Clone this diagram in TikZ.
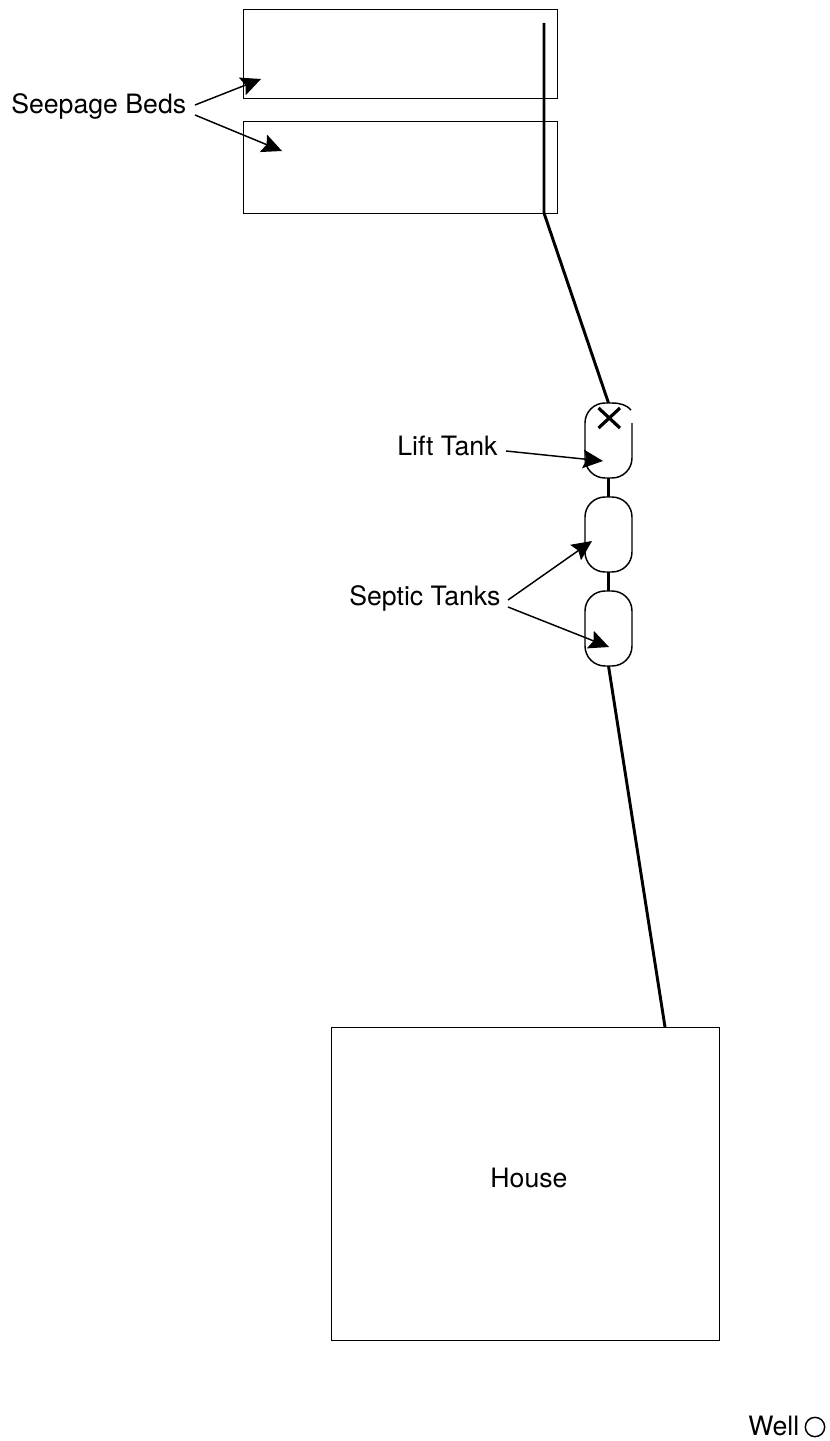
\documentclass[tikz,border=0pt]{standalone}
\usepackage{fontspec}
\setmainfont{TeX Gyre Heros}
\usetikzlibrary{arrows.meta}
\tikzset{
  every picture/.style={x=0.75pt,y=-0.75pt},
  bedbox/.style={draw,line width=0.7pt,minimum width=235.5pt,inner sep=0pt,outer sep=0pt,anchor=north west},
  tankbox/.style={draw,line width=1.1pt,rounded corners=15pt,minimum width=35.25pt,minimum height=56.25pt,inner sep=0pt,outer sep=0pt,anchor=north west},
  pipe/.style={line width=2.2pt},
  pointer/.style={line width=1.1pt,-{Stealth[length=15pt,width=14pt,inset=2.5pt]}},
  lbl/.style={font=\fontsize{20}{24}\selectfont,inner sep=0pt,anchor=base west},
}
\begin{document}
\begin{tikzpicture}
\useasboundingbox (0,0) rectangle (830,1441);
% seepage beds
\node[bedbox,minimum height=66.75pt] (bedA) at (243,9) {};
\node[bedbox,minimum height=69pt] (bedB) at (243,121) {};
% tanks
\node[inner sep=0pt,outer sep=0pt,minimum width=35.25pt,minimum height=56.25pt,anchor=north west] (lift) at (585,403) {};
\draw[line width=1.1pt,rounded corners=15pt] (632,423) -- (632,478) -- (585,478) -- (585,403) -- (612,403);
\draw[line width=1.1pt] (612,403) .. controls (620,403) and (627,405) .. (631,410);
\node[tankbox] (tankA) at (585,497) {};
\node[tankbox] (tankB) at (585,591) {};
% house
\node[draw,line width=0.7pt,minimum width=291pt,minimum height=234.75pt,inner sep=0pt,outer sep=0pt,anchor=north west] (house) at (331,1027) {};
\node[lbl,anchor=base] (houseLabel) at (529,1187) {House};
% pipes
\coordinate (pipeEnd) at (544,23);
\coordinate (pipeBend) at (544,213);
\coordinate (houseOut) at (665,1027);
\draw[pipe] (pipeEnd) -- (pipeBend) -- (lift.north);
\draw[pipe] (lift.south) -- (tankA.north);
\draw[pipe] (tankA.south) -- (tankB.north);
\draw[pipe] (tankB.south) -- (houseOut);
% cross in lift tank
\coordinate (xa) at (598.5,408);
\coordinate (xb) at (620,428);
\coordinate (xc) at (620,408);
\coordinate (xd) at (598.5,428);
\draw[line width=2.4pt] (xa) -- (xb) (xc) -- (xd);
% labels
\node[lbl] (seepage) at (11,114) {Seepage Beds};
\node[lbl] (liftLabel) at (397,455) {Lift Tank};
\node[lbl] (septic) at (349,605) {Septic Tanks};
\node[lbl] (well) at (748,1435) {Well};
\node[draw,circle,line width=1.1pt,minimum size=14.5pt,inner sep=0pt,outer sep=0pt] (wellMark) at (815,1427) {};
% pointers
\coordinate (sa) at (195,105);
\coordinate (sb) at (195,115);
\coordinate (ta) at (261,79);
\coordinate (tb) at (282,151);
\draw[pointer] (sa) -- (ta);
\draw[pointer] (sb) -- (tb);
\coordinate (la) at (506,451);
\coordinate (lt) at (603,461);
\draw[pointer] (la) -- (lt);
\coordinate (pa) at (508,600);
\coordinate (pb) at (508,607);
\coordinate (pc) at (592,541);
\coordinate (pd) at (609,647);
\draw[pointer] (pa) -- (pc);
\draw[pointer] (pb) -- (pd);
\end{tikzpicture}
\end{document}
